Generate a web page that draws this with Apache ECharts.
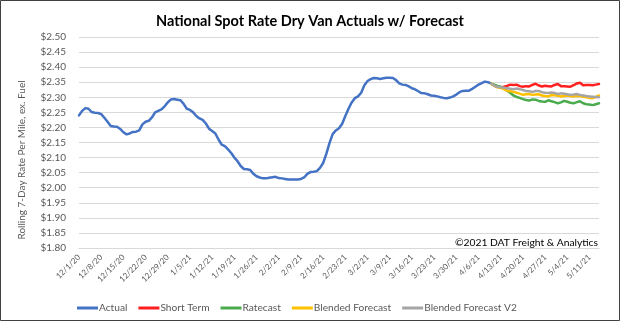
<!DOCTYPE html>
<html>
<head>
<meta charset="utf-8">
<script src="https://cdn.jsdelivr.net/npm/echarts@6/dist/echarts.min.js"></script>
<style>
  html, body { margin: 0; padding: 0; background: #ffffff; }
  #chart { width: 620px; height: 321px; }
</style>
</head>
<body>
<div id="chart"></div>
<script>
// Daily axis: 12/1/20 through 5/14/21, labelled weekly
const startDate = [2020, 11, 1];   // year, month (0-based), day
const dayCount = 165;
const tickLabels = ['12/1/20', '12/8/20', '12/15/20', '12/22/20', '12/29/20', '1/5/21', '1/12/21', '1/19/21',
  '1/26/21', '2/2/21', '2/9/21', '2/16/21', '2/23/21', '3/2/21', '3/9/21', '3/16/21', '3/23/21', '3/30/21',
  '4/6/21', '4/13/21', '4/20/21', '4/27/21', '5/4/21', '5/11/21'];

// Rolling 7-day spot rate, $/mile, from 12/1/20
const actual = [
  2.240, 2.255, 2.264, 2.262, 2.251, 2.249, 2.248, 2.244, 2.232, 2.219,
  2.205, 2.203, 2.202, 2.195, 2.184, 2.177, 2.180, 2.185, 2.186, 2.190,
  2.210, 2.219, 2.222, 2.233, 2.250, 2.255, 2.260, 2.270, 2.283, 2.293,
  2.294, 2.292, 2.290, 2.278, 2.262, 2.258, 2.250, 2.238, 2.230, 2.225,
  2.213, 2.196, 2.188, 2.180, 2.160, 2.143, 2.138, 2.127, 2.115, 2.100,
  2.088, 2.072, 2.062, 2.061, 2.059, 2.046, 2.038, 2.034, 2.031, 2.031,
  2.033, 2.035, 2.036, 2.032, 2.031, 2.029, 2.027, 2.027, 2.027, 2.027,
  2.029, 2.034, 2.046, 2.052, 2.053, 2.055, 2.066, 2.082, 2.112, 2.148,
  2.178, 2.190, 2.197, 2.212, 2.238, 2.262, 2.283, 2.297, 2.303, 2.315,
  2.340, 2.354, 2.360, 2.364, 2.363, 2.361, 2.363, 2.365, 2.365, 2.364,
  2.357, 2.346, 2.342, 2.341, 2.336, 2.330, 2.326, 2.320, 2.314, 2.313,
  2.310, 2.306, 2.305, 2.303, 2.300, 2.298, 2.297, 2.299, 2.303, 2.309,
  2.317, 2.321, 2.322, 2.322, 2.328, 2.335, 2.342, 2.347, 2.352, 2.350,
  2.345
];

// Forecasts begin on the last actual day (index 130, 4/10/21)
const forecastStart = 130;
const shortTerm = [
  2.345, 2.338, 2.335, 2.333, 2.335, 2.338, 2.342, 2.341, 2.342, 2.337,
  2.335, 2.337, 2.336, 2.341, 2.345, 2.339, 2.336, 2.338, 2.337, 2.336,
  2.341, 2.344, 2.337, 2.337, 2.336, 2.335, 2.340, 2.346, 2.348, 2.340,
  2.341, 2.341, 2.340, 2.342, 2.344
];
const ratecast = [
  2.345, 2.342, 2.338, 2.335, 2.329, 2.322, 2.315, 2.306, 2.301, 2.298,
  2.294, 2.291, 2.289, 2.293, 2.292, 2.288, 2.286, 2.285, 2.290, 2.287,
  2.284, 2.280, 2.283, 2.288, 2.285, 2.282, 2.280, 2.284, 2.287, 2.280,
  2.277, 2.276, 2.274, 2.277, 2.280
];
const blended = [
  2.345, 2.338, 2.333, 2.331, 2.327, 2.322, 2.320, 2.318, 2.315, 2.312,
  2.308, 2.310, 2.311, 2.308, 2.309, 2.310, 2.306, 2.304, 2.303, 2.307,
  2.307, 2.305, 2.303, 2.304, 2.306, 2.304, 2.303, 2.305, 2.304, 2.302,
  2.300, 2.298, 2.297, 2.301, 2.306
];
const blendedV2 = [
  2.345, 2.339, 2.334, 2.333, 2.332, 2.330, 2.328, 2.327, 2.329, 2.327,
  2.324, 2.321, 2.320, 2.318, 2.321, 2.321, 2.317, 2.315, 2.314, 2.316,
  2.314, 2.311, 2.313, 2.312, 2.310, 2.308, 2.309, 2.311, 2.308, 2.306,
  2.304, 2.303, 2.302, 2.301, 2.300
];

const seriesNames = ['Actual', 'Short Term', 'Ratecast', 'Blended Forecast', 'Blended Forecast V2'];
const seriesColors = ['#4472c4', '#ff1f1f', '#4aab4e', '#ffc000', '#a5a5a5'];

// Build M/D/YY category strings for each day
const categories = [];
for (let i = 0; i < dayCount; i++) {
  const d = new Date(startDate[0], startDate[1], startDate[2] + i);
  categories.push((d.getMonth() + 1) + '/' + d.getDate() + '/' + String(d.getFullYear()).slice(2));
}

function placeFrom(offset, values) {
  return values.map((v, i) => [categories[offset + i], v]);
}

const seriesData = [
  placeFrom(0, actual),
  placeFrom(forecastStart, shortTerm),
  placeFrom(forecastStart, ratecast),
  placeFrom(forecastStart, blended),
  placeFrom(forecastStart, blendedV2)
];

const FONT = 'Lato, "Open Sans", sans-serif';
const chart = echarts.init(document.getElementById('chart'), null, { renderer: 'canvas' });

chart.setOption({
  animation: false,
  backgroundColor: '#ffffff',
  title: {
    text: 'National Spot Rate Dry Van Actuals w/ Forecast',
    left: 'center',
    top: 9,
    textStyle: { fontFamily: FONT, fontSize: 14.5, fontWeight: 'bold', color: '#000000' }
  },
  legend: {
    data: seriesNames,
    left: 72,
    top: 298,
    icon: 'rect',
    itemWidth: 21,
    itemHeight: 3,
    itemGap: 11,
    textStyle: { fontFamily: FONT, fontSize: 10.2, color: '#595959', padding: [0, 0, 0, -4] }
  },
  grid: { left: 79, right: 21, top: 37, bottom: 73, containLabel: false },
  xAxis: {
    type: 'category',
    data: categories,
    boundaryGap: false,
    axisLine: { show: true, lineStyle: { color: '#d9d9d9', width: 1 } },
    axisTick: { show: false },
    axisLabel: {
      interval: (idx, val) => tickLabels.indexOf(val) !== -1,
      rotate: 45,
      fontFamily: FONT,
      fontSize: 8,
      color: '#595959',
      margin: 8
    },
    splitLine: { show: false }
  },
  yAxis: {
    type: 'value',
    min: 1.8,
    max: 2.5,
    interval: 0.05,
    axisLine: { show: false },
    axisTick: { show: false },
    axisLabel: {
      formatter: v => '$' + v.toFixed(2),
      fontFamily: FONT,
      fontSize: 10,
      color: '#595959',
      margin: 13
    },
    splitLine: { lineStyle: { color: '#d9d9d9', width: 1 } }
  },
  series: seriesNames.map((name, i) => ({
    name: name,
    type: 'line',
    data: seriesData[i],
    showSymbol: false,
    symbol: 'none',
    color: seriesColors[i],
    lineStyle: { width: 2.5, color: seriesColors[i], join: 'round', cap: 'round' },
    z: 2 + i
  })),
  graphic: [
    {
      type: 'text',
      x: 22,
      y: 160,
      rotation: Math.PI / 2,
      style: {
        text: 'Rolling 7-Day Rate Per Mile, ex. Fuel',
        fontFamily: FONT,
        fontSize: 10,
        fill: '#595959',
        align: 'center',
        verticalAlign: 'middle'
      }
    },
    {
      type: 'text',
      right: 22,
      top: 238,
      style: {
        text: '\u00a92021 DAT Freight & Analytics',
        fontFamily: FONT,
        fontSize: 10.3,
        fill: '#000000'
      }
    },
    {
      type: 'rect',
      shape: { x: 0.5, y: 0.5, width: 619, height: 320 },
      style: { fill: 'none', stroke: '#404040', lineWidth: 1 },
      silent: true,
      z: 100
    }
  ]
});
</script>
</body>
</html>
